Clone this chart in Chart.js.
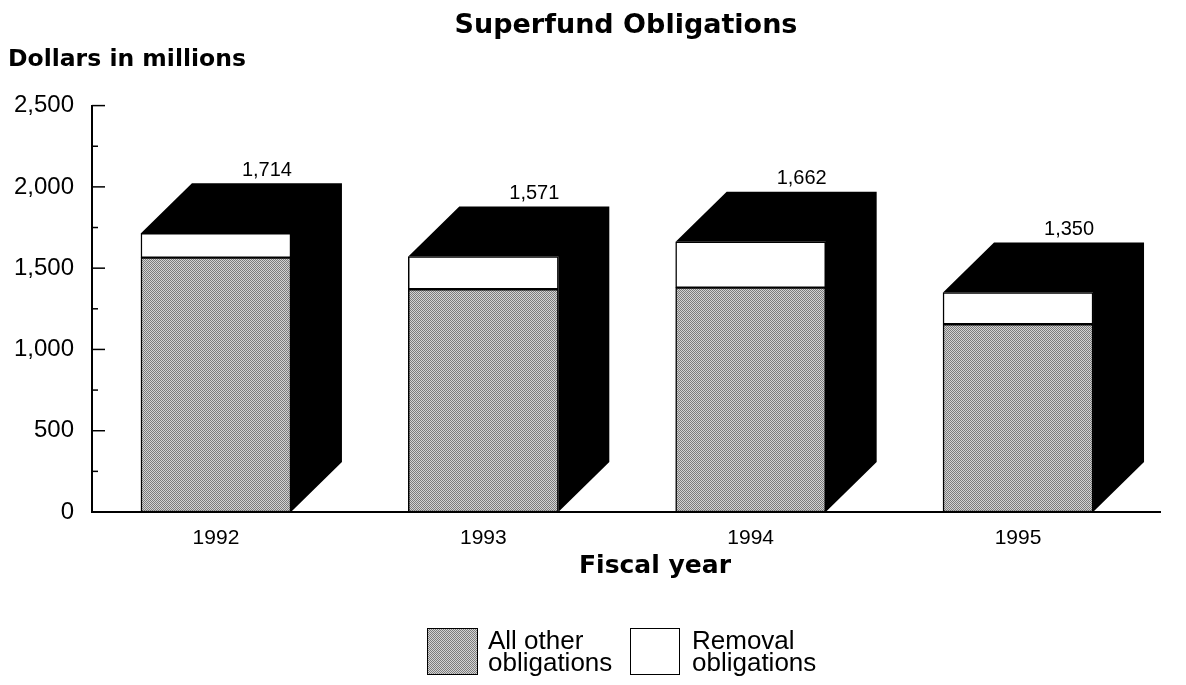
<!DOCTYPE html>
<html><head><meta charset="utf-8">
<script src="https://cdn.jsdelivr.net/npm/chart.js@4.4.1/dist/chart.umd.min.js"></script>
<style>
html,body{margin:0;padding:0;background:#fff;overflow:hidden;}
#wrap{position:relative;width:1186px;height:685px;overflow:hidden;}
canvas{display:block;}
.lg{position:absolute;font-family:"Liberation Sans",Arial,sans-serif;font-size:26px;line-height:22px;color:#000;white-space:nowrap;}
.box{position:absolute;border:1.5px solid #000;box-sizing:border-box;}
.xt{position:absolute;font-family:"DejaVu Sans",sans-serif;font-weight:bold;font-size:25px;line-height:30px;color:#000;white-space:nowrap;transform:translateX(-50%);}
</style></head><body>
<div id="wrap">
<canvas id="c" width="1186" height="685"></canvas>
<div class="xt" style="left:655px;top:550px;">Fiscal year</div>
<div class="box" style="left:427px;top:628px;width:51px;height:47px;background:repeating-conic-gradient(#7c7c7c 0 25%, #d4d4d4 0 50%) 0 0/2px 2px;"></div>
<div class="lg" style="left:488px;top:629px;">All other<br>obligations</div>
<div class="box" style="left:630px;top:628px;width:50px;height:47px;background:#fff;"></div>
<div class="lg" style="left:692px;top:629px;">Removal<br>obligations</div>
</div>
<script>
// ---- data ----
const years = ['1992', '1993', '1994', '1995'];
const allOther = [1565, 1370, 1380, 1155];
const removal = [149, 201, 282, 195];
const yTicksMajor = [0, 500, 1000, 1500, 2000, 2500];

const DX = 51, DY = 50;

function grayPattern() {
  const p = document.createElement('canvas');
  p.width = 2; p.height = 2;
  const g = p.getContext('2d');
  g.fillStyle = '#d4d4d4'; g.fillRect(0, 0, 2, 2);
  g.fillStyle = '#7c7c7c'; g.fillRect(0, 0, 1, 1); g.fillRect(1, 1, 1, 1);
  return document.getElementById('c').getContext('2d').createPattern(p, 'repeat');
}

const depth3d = {
  id: 'depth3d',
  beforeDatasetsDraw(chart) {
    const ctx = chart.ctx;
    const topMeta = chart.getDatasetMeta(chart.data.datasets.length - 1);
    const baseMeta = chart.getDatasetMeta(0);
    ctx.save();
    ctx.fillStyle = '#000';
    topMeta.data.forEach((bar, i) => {
      const l = bar.x - bar.width / 2, r = bar.x + bar.width / 2;
      const yt = bar.y, yb = baseMeta.data[i].base;
      ctx.beginPath();
      ctx.moveTo(l, yt);
      ctx.lineTo(l + DX, yt - DY);
      ctx.lineTo(r + DX, yt - DY);
      ctx.lineTo(r + DX, yb - DY);
      ctx.lineTo(r, yb);
      ctx.lineTo(r, yt);
      ctx.closePath();
      ctx.fill();
    });
    ctx.restore();
  },
  afterDatasetsDraw(chart) {
    const ctx = chart.ctx;
    const topMeta = chart.getDatasetMeta(chart.data.datasets.length - 1);
    ctx.save();
    ctx.fillStyle = '#000';
    ctx.font = '20px "Liberation Sans", Arial, sans-serif';
    ctx.textAlign = 'center';
    ctx.textBaseline = 'middle';
    topMeta.data.forEach((bar, i) => {
      const total = allOther[i] + removal[i];
      ctx.fillText(total.toLocaleString('en-US'), bar.x + DX, bar.y - DY - 13);
    });
    // inward tick marks on the y axis
    const ys = chart.scales.y;
    const left = chart.chartArea.left;
    ctx.strokeStyle = '#000';
    ctx.lineWidth = 1.5;
    ys.ticks.forEach(t => {
      const y = ys.getPixelForValue(t.value);
      const len = (t.value % 500 === 0) ? 13 : 6;
      ctx.beginPath();
      ctx.moveTo(left, y);
      ctx.lineTo(left + len, y);
      ctx.stroke();
    });
    ctx.restore();
  }
};

const pat = grayPattern();

new Chart(document.getElementById('c'), {
  type: 'bar',
  data: {
    datasets: [
      {
        label: 'All other obligations',
        data: allOther.map((v, i) => ({ x: i, y: v })),
        backgroundColor: pat,
        borderColor: '#000',
        borderWidth: 1.5,
        borderSkipped: false,
        grouped: false,
        barThickness: 150
      },
      {
        label: 'Removal obligations',
        data: removal.map((v, i) => ({ x: i, y: v })),
        backgroundColor: '#fff',
        borderColor: '#000',
        borderWidth: 1.5,
        borderSkipped: false,
        grouped: false,
        barThickness: 150
      }
    ]
  },
  options: {
    responsive: false,
    animation: false,
    devicePixelRatio: 1,
    layout: { padding: { left: 8, right: 26, top: 0, bottom: 100 } },
    plugins: {
      legend: { display: false },
      tooltip: { enabled: false },
      title: {
        display: true,
        text: 'Superfund Obligations',
        fullSize: false,
        color: '#000',
        font: { family: '"DejaVu Sans", sans-serif', size: 27, weight: 'bold', lineHeight: 1.2 },
        padding: { top: 10, bottom: 0 }
      },
      subtitle: {
        display: true,
        text: 'Dollars in millions',
        align: 'start',
        fullSize: true,
        color: '#000',
        font: { family: '"DejaVu Sans", sans-serif', size: 23.5, weight: 'bold', lineHeight: 1.2 },
        padding: { top: 3, bottom: 32 }
      }
    },
    scales: {
      x: {
        type: 'linear',
        offset: false,
        min: -0.4636,
        max: 3.531,
        grid: { display: false, drawTicks: false, offset: false },
        border: { display: true, color: '#000', width: 2 },
        afterBuildTicks: (scale) => { scale.ticks = years.map((_, i) => ({ value: i })); },
        afterFit: (scale) => { scale.height = 73; },
        ticks: {
          color: '#000',
          padding: 16,
          maxRotation: 0,
          autoSkip: false,
          font: { family: '"Liberation Sans", Arial, sans-serif', size: 21, lineHeight: 1.0 },
          callback: (v) => years[v]
        },
        title: { display: false, text: 'Fiscal year' }
      },
      y: {
        stacked: true,
        min: 0,
        max: 2500,
        grid: { display: false, drawTicks: false },
        border: { display: true, color: '#000', width: 2 },
        afterFit: (scale) => { scale.width = 84; },
        ticks: {
          stepSize: 250,
          color: '#000',
          padding: 18,
          font: { family: '"Liberation Sans", Arial, sans-serif', size: 24 },
          callback: (v) => yTicksMajor.includes(v) ? v.toLocaleString('en-US') : ''
        }
      }
    }
  },
  plugins: [depth3d]
});
</script>
</body></html>
